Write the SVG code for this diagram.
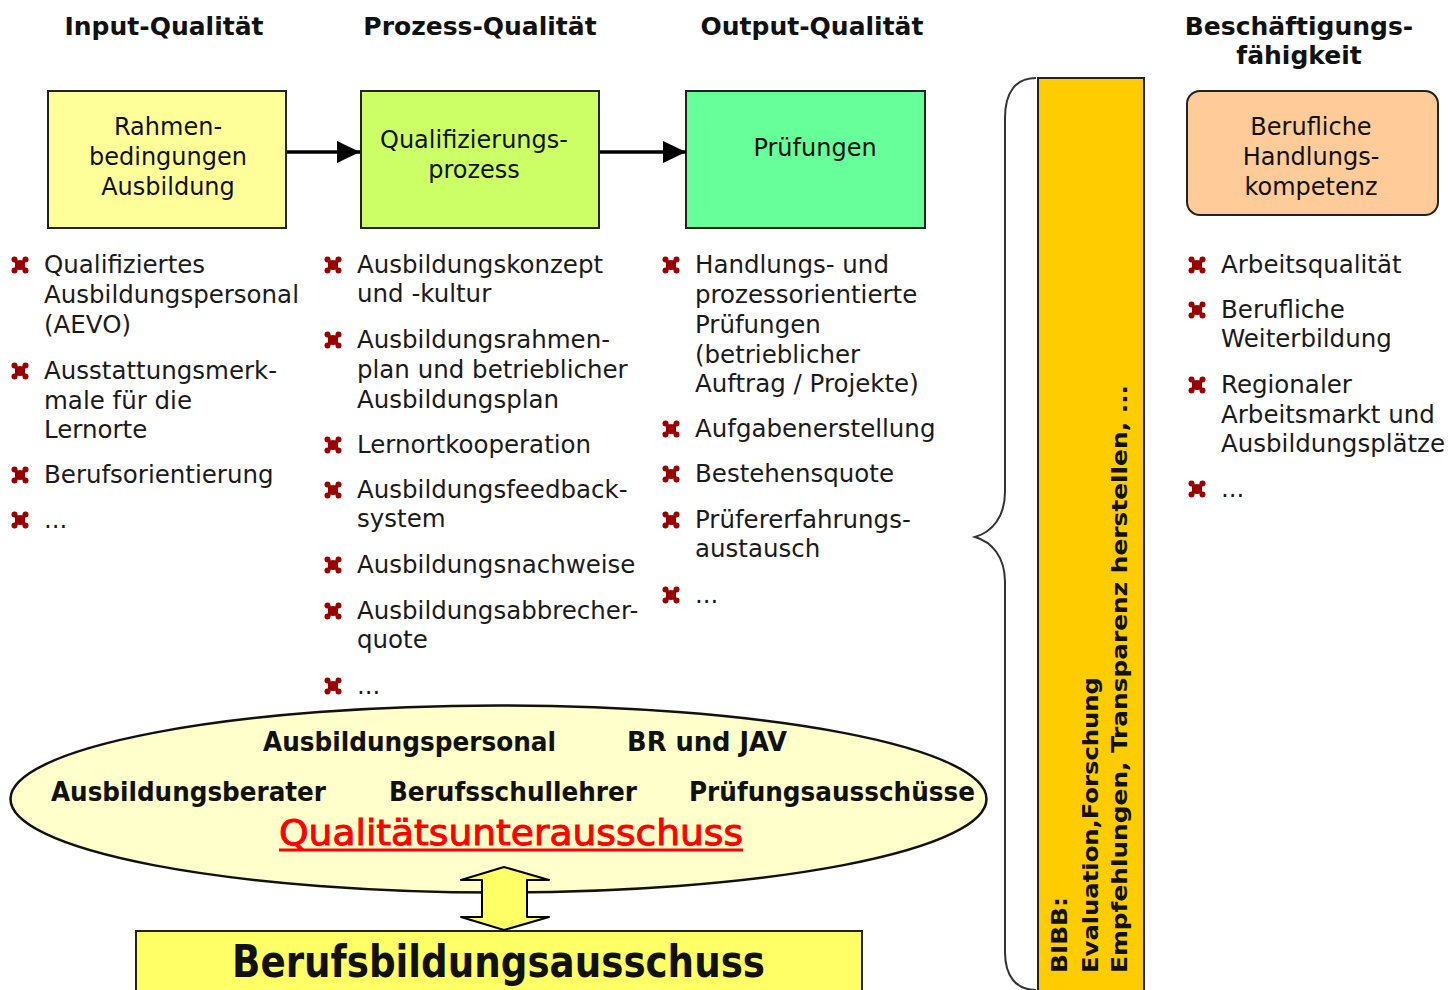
<svg xmlns="http://www.w3.org/2000/svg" width="1448" height="990" viewBox="0 0 1448 990">
<style>
.hd{font-family:"DejaVu Sans","Liberation Sans",sans-serif;font-weight:bold;font-size:25px;fill:#111;text-anchor:middle}
.bx{font-family:"DejaVu Sans","Liberation Sans",sans-serif;font-size:24px;fill:#111;text-anchor:middle}
.li{font-family:"DejaVu Sans","Liberation Sans",sans-serif;font-size:24.5px;fill:#1a1a1a}
.cd{font-family:"DejaVu Sans Condensed","DejaVu Sans","Liberation Sans",sans-serif;font-weight:bold;fill:#111}
.box{stroke:#222;stroke-width:2}
.bul{fill:#990000}
</style>
<defs>
<g id="b">
<path d="M-6.5,-6 Q-3,-4 0,-5 Q3,-4 6.5,-6 Q4.5,-3 5,0 Q4.5,3 6.5,6 Q3,4 0,5 Q-3,4 -6.5,6 Q-4.5,3 -5,0 Q-4.5,-3 -6.5,-6 Z"/>
<circle cx="-5.5" cy="-5.5" r="3"/><circle cx="5.5" cy="-5.5" r="3"/>
<circle cx="-5.5" cy="5.5" r="3"/><circle cx="5.5" cy="5.5" r="3"/>
</g>
<marker id="ah" markerWidth="24" markerHeight="22" refX="23" refY="11" orient="auto" markerUnits="userSpaceOnUse">
<path d="M0,0 L23,11 L0,22 Z" fill="#000"/>
</marker>
</defs>
<rect width="1448" height="990" fill="#fff"/>

<g id="headers">
<text class="hd" x="164" y="35">Input-Qualität</text>
<text class="hd" x="480" y="35">Prozess-Qualität</text>
<text class="hd" x="812" y="35">Output-Qualität</text>
<text class="hd" x="1299" y="35">Beschäftigungs-</text>
<text class="hd" x="1299" y="64">fähigkeit</text>
</g>

<g id="node-input">
<rect class="box" x="48" y="91" width="238" height="137" fill="#FFFF99"/>
<text class="bx" x="168" y="135">Rahmen-</text>
<text class="bx" x="168" y="165">bedingungen</text>
<text class="bx" x="168" y="195">Ausbildung</text>
</g>
<g id="node-prozess">
<rect class="box" x="361" y="91" width="238" height="137" fill="#CCFF66"/>
<text class="bx" x="474" y="148">Qualifizierungs-</text>
<text class="bx" x="474" y="178">prozess</text>
</g>
<g id="node-output">
<rect class="box" x="686" y="91" width="239" height="137" fill="#66FF99"/>
<text class="bx" x="815" y="156">Prüfungen</text>
</g>
<g id="node-kompetenz">
<rect class="box" x="1187" y="91" width="251" height="124" rx="13" fill="#FFCC99"/>
<text class="bx" x="1311" y="135">Berufliche</text>
<text class="bx" x="1311" y="165">Handlungs-</text>
<text class="bx" x="1311" y="195">kompetenz</text>
</g>

<g id="list-input">
<use href="#b" class="bul" x="20" y="265"/>
<text class="li" x="44" y="273">Qualifiziertes</text>
<text class="li" x="44" y="303">Ausbildungspersonal</text>
<text class="li" x="44" y="333">(AEVO)</text>
<use href="#b" class="bul" x="20" y="371"/>
<text class="li" x="44" y="379">Ausstattungsmerk-</text>
<text class="li" x="44" y="409">male für die</text>
<text class="li" x="44" y="438">Lernorte</text>
<use href="#b" class="bul" x="20" y="475"/>
<text class="li" x="44" y="483">Berufsorientierung</text>
<use href="#b" class="bul" x="20" y="520"/>
<text class="li" x="44" y="528">...</text>
</g>

<g id="list-prozess">
<use href="#b" class="bul" x="333" y="265"/>
<text class="li" x="357" y="273">Ausbildungskonzept</text>
<text class="li" x="357" y="302">und -kultur</text>
<use href="#b" class="bul" x="333" y="340"/>
<text class="li" x="357" y="348">Ausbildungsrahmen-</text>
<text class="li" x="357" y="378">plan und betrieblicher</text>
<text class="li" x="357" y="408">Ausbildungsplan</text>
<use href="#b" class="bul" x="333" y="445"/>
<text class="li" x="357" y="453">Lernortkooperation</text>
<use href="#b" class="bul" x="333" y="490"/>
<text class="li" x="357" y="498">Ausbildungsfeedback-</text>
<text class="li" x="357" y="527">system</text>
<use href="#b" class="bul" x="333" y="565"/>
<text class="li" x="357" y="573">Ausbildungsnachweise</text>
<use href="#b" class="bul" x="333" y="611"/>
<text class="li" x="357" y="619">Ausbildungsabbrecher-</text>
<text class="li" x="357" y="648">quote</text>
<use href="#b" class="bul" x="333" y="686"/>
<text class="li" x="357" y="694">...</text>
</g>

<g id="list-output">
<use href="#b" class="bul" x="671" y="265"/>
<text class="li" x="695" y="273">Handlungs- und</text>
<text class="li" x="695" y="303">prozessorientierte</text>
<text class="li" x="695" y="333">Prüfungen</text>
<text class="li" x="695" y="363">(betrieblicher</text>
<text class="li" x="695" y="392">Auftrag / Projekte)</text>
<use href="#b" class="bul" x="671" y="429"/>
<text class="li" x="695" y="437">Aufgabenerstellung</text>
<use href="#b" class="bul" x="671" y="474"/>
<text class="li" x="695" y="482">Bestehensquote</text>
<use href="#b" class="bul" x="671" y="520"/>
<text class="li" x="695" y="528">Prüfererfahrungs-</text>
<text class="li" x="695" y="557">austausch</text>
<use href="#b" class="bul" x="671" y="595"/>
<text class="li" x="695" y="603">...</text>
</g>

<g id="list-kompetenz">
<use href="#b" class="bul" x="1197" y="265"/>
<text class="li" x="1221" y="273">Arbeitsqualität</text>
<use href="#b" class="bul" x="1197" y="310"/>
<text class="li" x="1221" y="318">Berufliche</text>
<text class="li" x="1221" y="347">Weiterbildung</text>
<use href="#b" class="bul" x="1197" y="385"/>
<text class="li" x="1221" y="393">Regionaler</text>
<text class="li" x="1221" y="423">Arbeitsmarkt und</text>
<text class="li" x="1221" y="452">Ausbildungsplätze</text>
<use href="#b" class="bul" x="1197" y="489"/>
<text class="li" x="1221" y="497">...</text>
</g>

<g id="node-bibb">
<rect x="1038" y="78" width="106" height="920" fill="#FFCC00" stroke="#222" stroke-width="2"/>
<g transform="translate(1067,973) rotate(-90)"><text class="cd" font-size="21" x="0" y="0" textLength="76" lengthAdjust="spacingAndGlyphs">BIBB:</text></g>
<g transform="translate(1098,973) rotate(-90)"><text class="cd" font-size="21" x="0" y="0" textLength="296" lengthAdjust="spacingAndGlyphs">Evaluation,Forschung</text></g>
<g transform="translate(1127,973) rotate(-90)"><text class="cd" font-size="21" x="0" y="0" textLength="588" lengthAdjust="spacingAndGlyphs">Empfehlungen, Transparenz herstellen, ...</text></g>
</g>

<g id="node-qua">
<ellipse cx="498.5" cy="799" rx="488" ry="93.5" fill="#FFFFCC" stroke="#111" stroke-width="2.5"/>
<text class="cd" font-size="26" x="263" y="751" textLength="293" lengthAdjust="spacingAndGlyphs">Ausbildungspersonal</text>
<text class="cd" font-size="26" x="627" y="751" textLength="160" lengthAdjust="spacingAndGlyphs">BR und JAV</text>
<text class="cd" font-size="26" x="51" y="801" textLength="275" lengthAdjust="spacingAndGlyphs">Ausbildungsberater</text>
<text class="cd" font-size="26" x="389" y="801" textLength="248" lengthAdjust="spacingAndGlyphs">Berufsschullehrer</text>
<text class="cd" font-size="26" x="689" y="801" textLength="286" lengthAdjust="spacingAndGlyphs">Prüfungsausschüsse</text>
<text font-family="DejaVu Sans Condensed,DejaVu Sans,Liberation Sans,sans-serif" font-size="36" fill="#FF0000" stroke="#FF0000" stroke-width="0.9" x="279" y="845" textLength="464" lengthAdjust="spacingAndGlyphs">Qualitätsunterausschuss</text>
<line x1="279" y1="850" x2="743" y2="850" stroke="#FF0000" stroke-width="3"/>
</g>

<g id="node-bba">
<rect x="136" y="931" width="726" height="70" fill="#FFFF66" stroke="#222" stroke-width="2"/>
<text class="cd" font-size="44" x="232" y="977" textLength="533" lengthAdjust="spacingAndGlyphs">Berufsbildungsausschuss</text>
</g>

<g id="connectors">
<line x1="287" y1="152" x2="360" y2="152" stroke="#000" stroke-width="3.5" marker-end="url(#ah)"/>
<line x1="600" y1="152" x2="686" y2="152" stroke="#000" stroke-width="3.5" marker-end="url(#ah)"/>
<path d="M1036,78 C1016,78 1005,92 1005,118 L1005,492 C1005,517 992,532 975,537 C992,542 1005,557 1005,582 L1005,952 C1005,976 1016,990 1036,990" fill="none" stroke="#333" stroke-width="2"/>
<path d="M504,867 L549,880 L527,880 L527,917 L549,917 L504,930 L461,917 L482,917 L482,880 L461,880 Z" fill="#FFFF66" stroke="#000" stroke-width="2" stroke-linejoin="round"/>
</g>
</svg>
